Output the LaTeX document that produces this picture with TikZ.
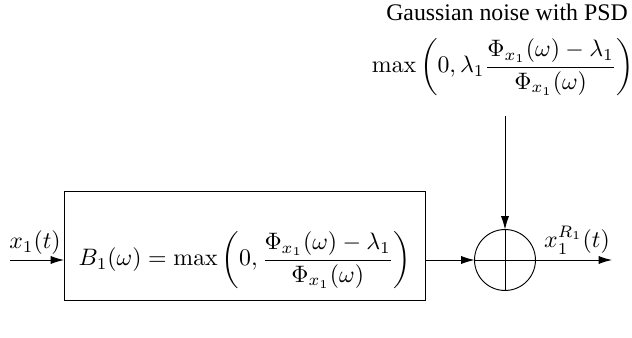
\documentclass[tikz,border=0pt]{standalone}
\usepackage[no-math]{fontspec}
\setmainfont{Liberation Serif}
\usepackage{amsmath}
\usetikzlibrary{arrows.meta}
\begin{document}
\begin{tikzpicture}[x=0.42pt,y=-0.42pt,
  arr/.style={-{Latex[length=5.6pt,width=3.4pt]}, line width=0.4pt},
  blk/.style={draw, line width=0.4pt, inner sep=0pt, outer sep=0pt},
  txt/.style={inner sep=0pt, outer sep=0pt}]
\useasboundingbox (0,0) rectangle (632,338);
% block
\node[blk, minimum width=152pt, minimum height=45.4pt] (box) at (245,246) {};
\node[txt] (f) at (245,260) {$B_1(\omega)=\max\left(0,\dfrac{\Phi_{x_1}(\omega)-\lambda_1}{\Phi_{x_1}(\omega)}\right)$};
% input
\coordinate (in) at (10,260);
\draw[arr] (in) -- (in -| box.west);
\node[txt] (inlab) at (35,243) {$x_1(t)$};
% summer
\node[blk, circle, minimum size=25.6pt] (sum) at (505,260) {};
\draw[line width=0.4pt] (sum.north) -- (sum.south) (sum.west) -- (sum.east);
\draw[arr] (box.east |- sum) -- (sum.west);
\coordinate (out) at (612,260);
\draw[arr] (sum.east) -- (out);
\node[txt] (outlab) at (577,240) {$x_1^{R_1}(t)$};
% noise
\node[txt] (gn) at (507,12) {Gaussian noise with PSD};
\node[txt] (psd) at (503,67) {$\max\left(0,\lambda_1\dfrac{\Phi_{x_1}(\omega)-\lambda_1}{\Phi_{x_1}(\omega)}\right)$};
\coordinate (ntop) at (505,116);
\draw[arr] (ntop) -- (sum.north);
\end{tikzpicture}
\end{document}
